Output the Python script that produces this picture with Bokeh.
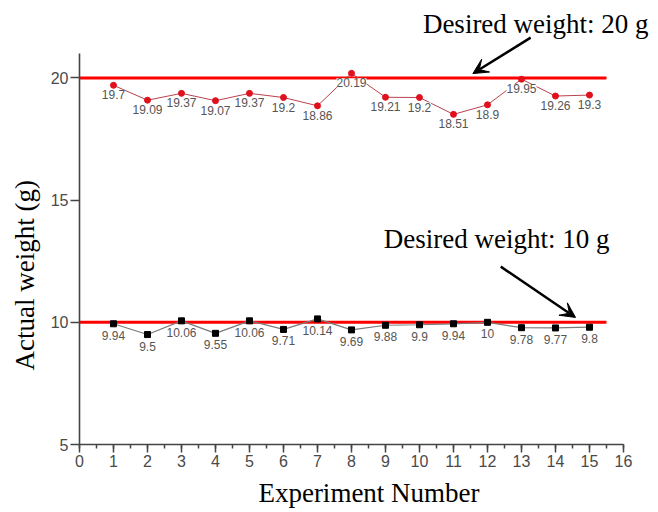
from bokeh.plotting import figure
from bokeh.models import (ColumnDataSource, LabelSet, Arrow, VeeHead, Label, Title,
                          Range1d, SingleIntervalTicker, FixedTicker)
from bokeh.embed import file_html
from bokeh.resources import INLINE
from bokeh.core.properties import value

# ---------------- data ----------------
experiments = [1, 2, 3, 4, 5, 6, 7, 8, 9, 10, 11, 12, 13, 14, 15]
weight_20g = [19.7, 19.09, 19.37, 19.07, 19.37, 19.2, 18.86, 20.19,
              19.21, 19.2, 18.51, 18.9, 19.95, 19.26, 19.3]
weight_10g = [9.94, 9.5, 10.06, 9.55, 10.06, 9.71, 10.14, 9.69,
              9.88, 9.9, 9.94, 10, 9.78, 9.77, 9.8]
desired_weights = [20, 10]
desired_x_start = [0, 0]
desired_x_end = [15.5, 15.5]
y_ticks = [5, 10, 15, 20]
annotation_texts = ["Desired weight: 20 g", "Desired weight: 10 g"]

SERIF = "Liberation Serif"
SANS = "Liberation Sans"

p = figure(width=658, height=512, output_backend="svg", toolbar_location=None,
           x_range=Range1d(0, 17.03), y_range=Range1d(5, 23.17),
           min_border_left=78, min_border_right=0,
           min_border_top=0, min_border_bottom=68)
p.outline_line_color = None
p.grid.grid_line_color = None
p.background_fill_color = "white"
p.border_fill_color = "white"

# axes
for ax in (p.xaxis[0], p.yaxis[0]):
    ax.axis_line_color = "#444444"
    ax.axis_line_width = 1.6
    ax.major_tick_line_color = "#444444"
    ax.major_tick_line_width = 1.5
    ax.minor_tick_line_color = "#444444"
    ax.minor_tick_line_width = 1.5
    ax.major_tick_in = 0
    ax.minor_tick_in = 0
    ax.major_label_text_font = SANS
    ax.major_label_text_font_size = "16px"
    ax.major_label_text_color = "#4a4a4a"
    ax.axis_label_text_font = SERIF
    ax.axis_label_text_font_size = "27px"
    ax.axis_label_text_font_style = "normal"
    ax.axis_label_text_color = "black"

p.xaxis.ticker = SingleIntervalTicker(interval=1, num_minor_ticks=2)
p.xaxis.bounds = (0, 16)
p.xaxis.major_tick_out = 8
p.xaxis.minor_tick_out = 4
p.xaxis.major_label_standoff = 2
p.xaxis.axis_label = "Experiment Number"
p.xaxis.axis_label_standoff = 8

p.yaxis.ticker = FixedTicker(ticks=y_ticks)
p.yaxis.bounds = (5, 21)
p.yaxis.major_tick_out = 9
p.yaxis.minor_tick_line_color = None
p.yaxis.major_label_standoff = 2

# y axis title placed along the lower part of the axis, as in the reference
p.add_layout(Title(text="Actual weight (g)", align="left", offset=74,
                   text_font=SERIF, text_font_size="27px",
                   text_font_style="normal", text_color="black",
                   vertical_align="bottom", standoff=15), "left")

# desired weight reference lines
p.segment(x0=desired_x_start, y0=desired_weights, x1=desired_x_end, y1=desired_weights,
          line_color="#ff0000", line_width=3)

# series
src20 = ColumnDataSource(dict(x=experiments, y=weight_20g,
                              t=[f"{v:g}" for v in weight_20g]))
src10 = ColumnDataSource(dict(x=experiments, y=weight_10g,
                              t=[f"{v:g}" for v in weight_10g]))

lbl20 = LabelSet(x="x", y="y", text="t", source=src20, text_align="center",
                 text_baseline="top", y_offset=-5, text_font=value(SANS),
                 text_font_size="12px", text_color="#555555",
                 background_fill_color="white")
lbl10 = LabelSet(x="x", y="y", text="t", source=src10, text_align="center",
                 text_baseline="top", y_offset=-7, text_font=value(SANS),
                 text_font_size="12px", text_color="#555555",
                 background_fill_color="white")

p.line("x", "y", source=src20, line_color="#b8424e", line_width=1)
p.line("x", "y", source=src10, line_color="#7a7a7a", line_width=1.2)
p.add_layout(lbl20)
p.add_layout(lbl10)
p.scatter("x", "y", source=src20, marker="circle", size=6,
          fill_color="#e0101c", line_color="#e0101c")
p.scatter("x", "y", source=src10, marker="square", size=6,
          fill_color="black", line_color="black")

# annotations
p.add_layout(Label(x=10.1, y=22.19, text=annotation_texts[0], text_font=SERIF,
                   text_font_size="27px", text_color="black",
                   text_baseline="alphabetic"))
p.add_layout(Label(x=8.95, y=13.39, text=annotation_texts[1], text_font=SERIF,
                   text_font_size="27px", text_color="black",
                   text_baseline="alphabetic"))
p.add_layout(Arrow(end=VeeHead(size=15, fill_color="black", line_color="black"),
                   x_start=13.27, y_start=21.65, x_end=11.57, y_end=20.18,
                   line_width=2.5, line_color="black"))
p.add_layout(Arrow(end=VeeHead(size=15, fill_color="black", line_color="black"),
                   x_start=12.39, y_start=12.28, x_end=14.59, y_end=10.2,
                   line_width=2.5, line_color="black"))

open("out.html", "w").write(file_html(p, INLINE))
